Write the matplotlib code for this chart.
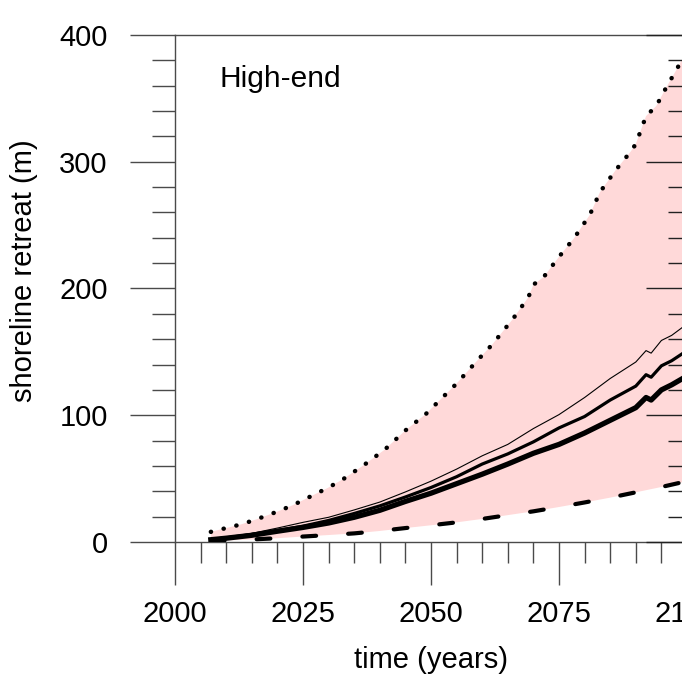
import matplotlib

matplotlib.use("Agg")
import matplotlib.pyplot as plt
from matplotlib.ticker import MultipleLocator

# upper bound of the envelope (dotted)
UPPER_YEARS = [2007, 2010, 2013, 2016, 2020, 2023, 2026, 2030, 2033, 2037,
               2041, 2045, 2049, 2052, 2055, 2059, 2062, 2066, 2069, 2070,
               2072, 2075, 2078, 2081, 2083, 2086, 2089, 2090, 2091, 2092,
               2094, 2096, 2098, 2100]
UPPER = [8, 11, 14, 18, 24, 29, 35, 43, 50, 61,
         73, 88, 101, 113, 125, 143, 156, 176, 193, 203,
         209, 225, 240, 258, 276, 293, 308, 314, 325, 336,
         344, 359, 373, 388]

# lower bound of the envelope (dashed)
LOWER_YEARS = [2007, 2010, 2015, 2020, 2025, 2030, 2035, 2040, 2045, 2050,
               2055, 2060, 2065, 2070, 2075, 2080, 2085, 2090, 2095, 2100]
LOWER = [0.5, 1.2, 2.0, 3.0, 4.3, 5.5, 6.8, 8.7, 11.0, 13.2,
         15.5, 18.2, 21.2, 24.2, 27.6, 31.2, 35.0, 39.2, 43.4, 48.0]

# three central projections
MID_YEARS = [2007, 2010, 2015, 2020, 2025, 2030, 2035, 2040, 2045, 2050,
             2055, 2060, 2065, 2070, 2075, 2080, 2085, 2090, 2092, 2093,
             2095, 2097, 2100]
THIN = [2.0, 3.5, 6.8, 11.0, 15.5, 19.5, 25.3, 31.5, 39.5, 48.0,
        57.5, 68.0, 77.0, 89.5, 100.5, 114.0, 129.0, 142.0, 151.0, 149.0,
        159.0, 163.0, 172.0]
MEDIUM = [2.0, 3.3, 6.0, 9.0, 12.5, 17.0, 22.5, 28.5, 35.5, 43.0,
          51.5, 61.5, 69.5, 79.0, 90.0, 99.0, 112.0, 123.0, 132.0, 130.0,
          139.0, 143.0, 151.0]
THICK = [1.8, 3.0, 5.3, 8.5, 11.5, 15.0, 19.5, 25.0, 32.0, 38.5,
         46.0, 53.5, 61.5, 70.0, 77.0, 86.0, 96.0, 106.0, 114.0, 112.0,
         120.0, 124.0, 131.0]

X_TICKS = [2000, 2025, 2050, 2075, 2100]
Y_TICKS = [0, 100, 200, 300, 400]

FIG_W, FIG_H = 682, 678
PX = 0.72  # points per pixel at dpi 100
AXIS_COLOR = "#4a4a4a"


def main():
    plt.rcParams.update({
        "font.family": ["Liberation Sans", "DejaVu Sans"],
        "font.size": 21,
    })

    fig = plt.figure(figsize=(FIG_W / 100, FIG_H / 100), dpi=100)
    fig.patch.set_facecolor("white")
    # plot box: x 2000 -> 175 px, 2100 -> 687 px ; y 400 -> 35 px, 0 -> 542 px
    ax = fig.add_axes([175 / FIG_W, (FIG_H - 542) / FIG_H,
                       512 / FIG_W, 507 / FIG_H])

    # pink envelope between lower and upper bounds
    poly_x = UPPER_YEARS + LOWER_YEARS[::-1]
    poly_y = UPPER + LOWER[::-1]
    ax.fill(poly_x, poly_y, color="#FFD9D9", linewidth=0, zorder=1)

    ax.plot(UPPER_YEARS, UPPER, color="black", linewidth=3.2,
            linestyle=(0, (0.05, 2.9)), dash_capstyle="round", zorder=3)
    ax.plot(LOWER_YEARS, LOWER, color="black", linewidth=3.0,
            linestyle=(0, (3.3, 7.7)), dash_capstyle="round", zorder=3)
    ax.plot(MID_YEARS, THIN, color="black", linewidth=0.8, zorder=4)
    ax.plot(MID_YEARS, MEDIUM, color="black", linewidth=2.3, zorder=4)
    ax.plot(MID_YEARS, THICK, color="black", linewidth=3.8, zorder=4)

    ax.set_xlim(2000, 2100)
    ax.set_ylim(0, 400)
    ax.set_xticks(X_TICKS)
    ax.set_xticklabels([str(t) for t in X_TICKS])
    ax.set_yticks(Y_TICKS)
    ax.set_yticklabels([str(t) for t in Y_TICKS])
    ax.xaxis.set_minor_locator(MultipleLocator(5))
    ax.yaxis.set_minor_locator(MultipleLocator(20))

    for spine in ax.spines.values():
        spine.set_color(AXIS_COLOR)
        spine.set_linewidth(1.0)

    ax.tick_params(axis="x", which="major", direction="out",
                   length=43 * PX, width=1.0, color=AXIS_COLOR, pad=11)
    ax.tick_params(axis="x", which="minor", direction="out",
                   length=21 * PX, width=1.0, color=AXIS_COLOR)
    ax.tick_params(axis="y", which="major", direction="out",
                   length=45 * PX, width=1.0, color=AXIS_COLOR, pad=16)
    ax.tick_params(axis="y", which="minor", direction="out",
                   length=23 * PX, width=1.0, color=AXIS_COLOR)

    # inward ticks on the right-hand axis (mostly outside the figure)
    ax_r = ax.twinx()
    ax_r.set_ylim(0, 400)
    ax_r.set_yticks(Y_TICKS)
    ax_r.yaxis.set_minor_locator(MultipleLocator(20))
    ax_r.set_yticklabels([])
    ax_r.tick_params(axis="y", which="major", direction="in",
                     length=41 * PX, width=1.0, color="#222222")
    ax_r.tick_params(axis="y", which="minor", direction="in",
                     length=19 * PX, width=1.0, color="#222222")
    for spine in ax_r.spines.values():
        spine.set_visible(False)

    fig.text(219 / FIG_W, 1 - 87 / FIG_H, "High-end", fontsize=21.5,
             ha="left", va="baseline")
    fig.text(431 / FIG_W, 1 - 660 / FIG_H, "time (years)", fontsize=21,
             ha="center", va="center")
    fig.text(24 / FIG_W, 1 - 271 / FIG_H, "shoreline retreat (m)", fontsize=21,
             ha="center", va="center", rotation=90)

    fig.savefig("out.png", dpi=100)


if __name__ == "__main__":
    main()
